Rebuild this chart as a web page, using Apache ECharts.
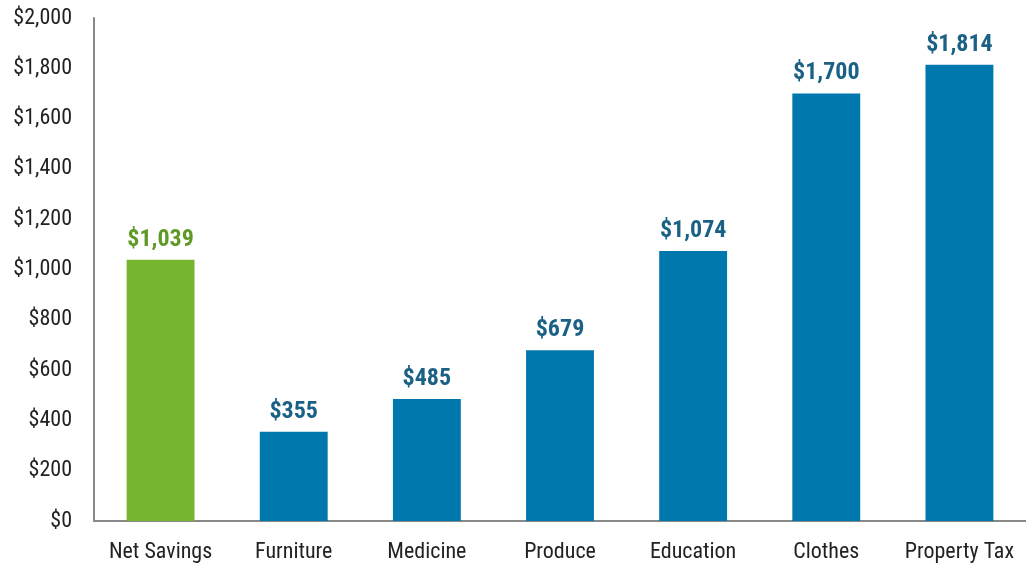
<!DOCTYPE html>
<html>
<head>
<meta charset="utf-8">
<style>
  html, body { margin: 0; padding: 0; background: #fff; }
  #chart { width: 1026px; height: 565px; }
</style>
<script src="https://cdn.jsdelivr.net/npm/echarts@6/dist/echarts.min.js"></script>
</head>
<body>
<div id="chart"></div>
<script>
// data
const categories = ['Net Savings', 'Furniture', 'Medicine', 'Produce', 'Education', 'Clothes', 'Property Tax']
const values = [1039, 355, 485, 679, 1074, 1700, 1814]

const FONT = '"Roboto Condensed", "Liberation Sans Narrow", "DejaVu Sans Condensed", Roboto, sans-serif'
const GREEN = '#77b530'
const BLUE = '#0078ae'

const fmt = v => '$' + v.toLocaleString('en-US')

const chart = echarts.init(document.getElementById('chart'))

chart.setOption({
  animation: false,
  grid: { left: 94, right: 0, top: 18, bottom: 44, containLabel: false },
  xAxis: {
    type: 'category',
    data: categories,
    axisLine: { lineStyle: { color: '#888', width: 2 } },
    axisTick: { show: false },
    axisLabel: { color: '#222', fontFamily: FONT, fontSize: 22, margin: 20, interval: 0 }
  },
  yAxis: {
    type: 'value',
    min: 0,
    max: 2000,
    interval: 200,
    axisLine: { show: true, lineStyle: { color: '#888', width: 2 } },
    axisTick: { show: false },
    splitLine: { show: false },
    axisLabel: {
      color: '#222', fontFamily: FONT, fontSize: 22, margin: 22,
      formatter: v => fmt(v)
    }
  },
  series: [{
    type: 'bar',
    barWidth: '51%',
    data: values.map((v, i) => ({
      value: v,
      itemStyle: { color: i === 0 ? GREEN : BLUE },
      label: { color: i === 0 ? '#5f9a26' : '#1b6186' }
    })),
    label: {
      show: true,
      position: 'top',
      distance: 8,
      fontFamily: FONT,
      fontWeight: 'bold',
      fontSize: 24,
      formatter: p => fmt(p.value)
    }
  }]
})
</script>
</body>
</html>
